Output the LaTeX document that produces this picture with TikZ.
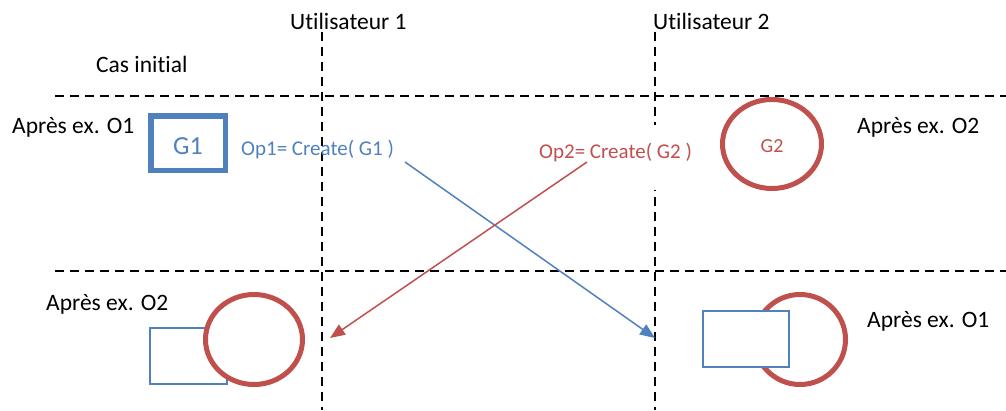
\documentclass[tikz,border=0pt]{standalone}
\usepackage{fontspec}
\setmainfont{Carlito}[Ligatures=NoCommon]
\usetikzlibrary{arrows.meta,shapes.geometric}
\definecolor{opblue}{HTML}{4F81BD}
\definecolor{opred}{HTML}{C0504D}
\tikzset{
  sep/.style={line width=1.8pt, dash pattern=on 9pt off 6pt},
  lbl/.style={anchor=base west, inner sep=0pt, font=\fontsize{23.5}{28}\selectfont},
  oplbl/.style={anchor=base west, inner sep=0pt, font=\fontsize{21}{25}\selectfont},
  thickbox/.style={draw=opblue, line width=5.5pt, rectangle, inner sep=0pt},
  thinbox/.style={draw=opblue, line width=1.3pt, rectangle, fill=white, inner sep=0pt},
  gellipse/.style={draw=opred, line width=5pt, ellipse, fill=white, inner sep=0pt},
  oparrow/.style={line width=1.5pt, -{Triangle[length=15pt,width=12pt]}},
}
\begin{document}
\begin{tikzpicture}[x=1pt, y=-1pt]
\useasboundingbox (0,0) rectangle (1006,410);

% separators: users (vertical) and states (horizontal)
\coordinate (u1top) at (322,32);
\coordinate (u1bot) at (322,410);
\coordinate (u2top) at (655,32);
\coordinate (u2bot) at (655,410);
\coordinate (h1l) at (55,96);
\coordinate (h1r) at (1006,96);
\coordinate (h2l) at (55,271);
\coordinate (h2r) at (1006,271);
\draw[sep] (h1l) -- (h1r);
\draw[sep] (h2l) -- (h2r);
\draw[sep] (u1top) -- (u1bot);
\draw[sep] (u2top) -- (u2bot);

% headings
\node[lbl] (user1) at (290,29) {Utilisateur 1};
\node[lbl] (user2) at (653,29) {Utilisateur 2};
\node[lbl] (init) at (96,72) {Cas initial};

% state after the local operation
\node[lbl] (afterA) at (12,133) {Après ex. O1};
\node[lbl] (afterB) at (857,133) {Après ex. O2};
\node[thickbox, minimum width=74.5pt, minimum height=54.5pt] (g1) at (188,143) {};
\node[anchor=base, inner sep=0pt, text=opblue, font=\fontsize{26}{30}\selectfont] (g1txt) at (188,154) {G1};
\node[gellipse, minimum width=99pt, minimum height=89pt] (g2) at (772,144) {};
\node[anchor=base, inner sep=0pt, text=opred, font=\fontsize{20}{24}\selectfont] (g2txt) at (772,152) {G2};

% operation labels
\node[oplbl, text=opblue] (op1) at (241,155) {Op1= Create( G1 )};
\fill[white] (530,125) rectangle (700,190);
\node[oplbl, text=opred] (op2) at (539,158) {Op2= Create( G2 )};

% state after the remote operation
\node[lbl] (afterC) at (46,310) {Après ex. O2};
\node[lbl] (afterD) at (867,327) {Après ex. O1};
\node[thinbox, minimum width=77pt, minimum height=56pt] (r1) at (188.5,356) {};
\node[gellipse, minimum width=97pt, minimum height=90pt] (e1) at (254,339.5) {};
\node[gellipse, minimum width=91pt, minimum height=90pt] (e2) at (800,339.5) {};
\node[thinbox, minimum width=86pt, minimum height=56pt] (r2) at (746,339) {};

% operations sent to the other user
\coordinate (op1start) at (405,162);
\coordinate (op1end) at (655,338);
\coordinate (op2start) at (587,162);
\coordinate (op2end) at (330,338);
\draw[oparrow, opblue] (op1start) -- (op1end);
\draw[oparrow, opred] (op2start) -- (op2end);
\end{tikzpicture}
\end{document}
